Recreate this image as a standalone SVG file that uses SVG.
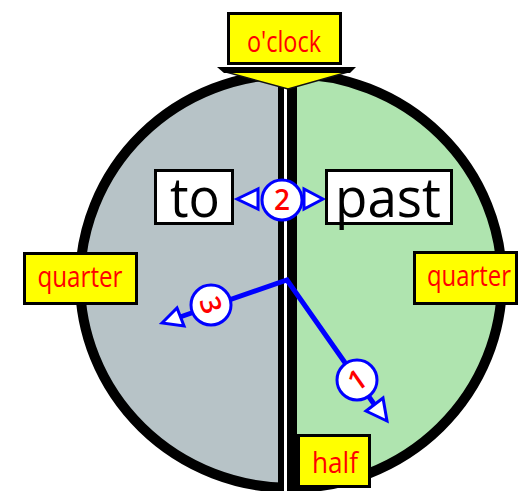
<svg xmlns="http://www.w3.org/2000/svg" width="519" height="491" viewBox="0 0 519 491">
<style>
.lbl{fill:#ffff00;stroke:#000;stroke-width:3}
.lt{font-family:"Open Sans","Noto Sans",sans-serif;fill:#ff0000;font-size:30px;text-anchor:middle}
.wb{fill:#fff;stroke:#000;stroke-width:3}
.wt{font-family:"Open Sans","Noto Sans",sans-serif;fill:#000;font-size:55px;text-anchor:middle}
.hand{fill:none;stroke:#0000ff;stroke-width:5;stroke-linejoin:miter}
.num{fill:#fff;stroke:#0000ff;stroke-width:3}
.nt{font-family:"Open Sans","Noto Sans",sans-serif;fill:#ff0000;font-size:28px;font-weight:600;text-anchor:middle}
.ah{fill:#fff;stroke:#0000ff;stroke-width:3;stroke-linejoin:miter}
</style>
<defs>
<clipPath id="rh"><rect x="286" y="0" width="233" height="491"/></clipPath>
</defs>
<g id="dial">
<ellipse cx="291" cy="281" rx="211" ry="207" fill="#b7c3c7"/>
<ellipse cx="291" cy="281" rx="211" ry="207" fill="#afe4af" clip-path="url(#rh)"/>
<ellipse cx="291" cy="281" rx="211" ry="207" fill="none" stroke="#000" stroke-width="10"/>
<rect x="278" y="85" width="19" height="406" fill="#000"/>
<rect x="284" y="85" width="3" height="406" fill="#fff"/>
</g>
<g id="connectors">
<polyline class="hand" points="180,317 287,280 374,404"/>
<polygon class="ah" points="162,323 177,308 184,326"/>
<polygon class="ah" points="387,421 366,411 383,398"/>
<polygon class="ah" points="237,199 258,189 258,209"/>
<polygon class="ah" points="323,199 304,189 304,209"/>
</g>
<g id="n2">
<circle class="num" cx="282" cy="200" r="20"/>
<text class="nt" x="282" y="210">2</text>
</g>
<g id="n3">
<circle class="num" cx="211" cy="305" r="20"/>
<text class="nt" transform="translate(211,305) rotate(72)" x="0" y="10">3</text>
</g>
<g id="n1">
<circle class="num" cx="357" cy="380" r="20"/>
<text class="nt" transform="translate(357,380) rotate(-35)" x="0" y="10">1</text>
</g>
<g id="to">
<rect class="wb" x="155.5" y="170.5" width="77" height="53"/>
<text class="wt" x="195" y="217" textLength="50" lengthAdjust="spacingAndGlyphs">to</text>
</g>
<g id="past">
<rect class="wb" x="326.5" y="170.5" width="125" height="53"/>
<text class="wt" x="388" y="217" textLength="106" lengthAdjust="spacingAndGlyphs">past</text>
</g>
<g id="quarter-left">
<rect class="lbl" x="24.5" y="253.5" width="112" height="50"/>
<text class="lt" x="80" y="287" textLength="85" lengthAdjust="spacingAndGlyphs">quarter</text>
</g>
<g id="quarter-right">
<rect class="lbl" x="414.5" y="252.5" width="102" height="51"/>
<text class="lt" x="469" y="286" textLength="84" lengthAdjust="spacingAndGlyphs">quarter</text>
</g>
<g id="half">
<rect class="lbl" x="298.5" y="435.5" width="71" height="51"/>
<text class="lt" x="335" y="473" textLength="46" lengthAdjust="spacingAndGlyphs">half</text>
</g>
<g id="oclock">
<polygon points="226,72 348,72 288,89" fill="#ffff00" stroke="#111" stroke-width="1.5"/>
<polygon points="217,67 356,67 350,73 224,73" fill="#000"/>
<rect class="lbl" x="228.5" y="13.5" width="112" height="50"/>
<text class="lt" x="284" y="52" textLength="74" lengthAdjust="spacingAndGlyphs">o'clock</text>
</g>
</svg>
